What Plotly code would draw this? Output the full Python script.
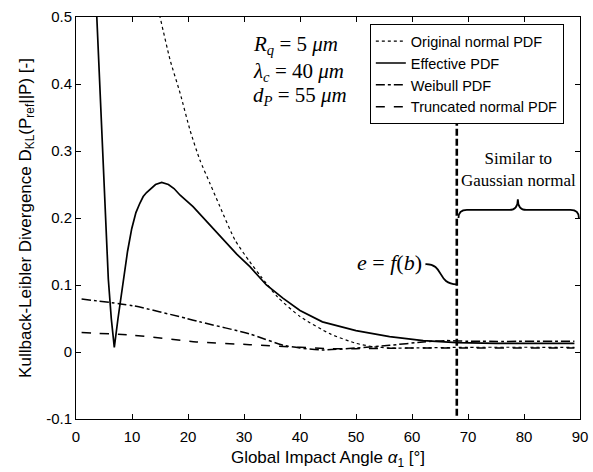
import plotly.graph_objects as go

# ---- data ----
eff_x = [3.4, 3.7, 4.6, 5.36, 5.77, 6.3, 6.84, 7.5, 8.45, 9.2, 9.95, 10.7, 11.4, 12.0, 12.6,
         13.2, 14.2, 15.3, 16.5, 17.5, 18.6, 20.9, 23.5, 26.3, 28.7, 31.1, 34, 37, 40, 44, 50,
         56, 62, 68, 75, 89]
eff_y = [0.56, 0.50, 0.327, 0.167, 0.109, 0.05, 0.007, 0.05, 0.109, 0.15, 0.184, 0.208, 0.222,
         0.232, 0.238, 0.243, 0.25, 0.253, 0.25, 0.244, 0.234, 0.217, 0.193, 0.167, 0.146,
         0.127, 0.1, 0.08, 0.062, 0.045, 0.032, 0.023, 0.017, 0.014, 0.013, 0.013]

orig_x = [14.4, 15, 16.8, 18.6, 20.4, 22.1, 23.9, 25.7, 28.4, 31, 33, 36, 40, 45.4, 50, 53,
          56, 60, 70, 89]
orig_y = [0.52, 0.50, 0.436, 0.386, 0.33, 0.287, 0.252, 0.217, 0.167, 0.135, 0.113, 0.082,
          0.053, 0.027, 0.013, 0.008, 0.006, 0.006, 0.007, 0.007]

weib_x = [1, 10.2, 19.8, 22.1, 31, 37, 40, 44, 50, 56, 62, 66, 70, 89]
weib_y = [0.079, 0.069, 0.050, 0.045, 0.027, 0.010, 0.006, 0.003, 0.006, 0.010, 0.015, 0.017,
          0.016, 0.016]

trunc_x = [1, 10.2, 21.5, 31, 40, 45, 50, 60, 70, 89]
trunc_y = [0.029, 0.025, 0.015, 0.011, 0.007, 0.005, 0.005, 0.006, 0.006, 0.006]

cut_angle = 68
cut_y = [-0.095, 0.357]

x_ticks = [0, 10, 20, 30, 40, 50, 60, 70, 80, 90]
y_ticks = [-0.1, 0, 0.1, 0.2, 0.3, 0.4, 0.5]
y_tick_text = ["-0.1", "0", "0.1", "0.2", "0.3", "0.4", "0.5"]

fig = go.Figure()
fig.add_trace(go.Scatter(x=orig_x, y=orig_y, mode="lines", name="Original normal PDF",
                         line=dict(color="black", width=1.2, dash="dot", shape="spline",
                                   smoothing=0.6)))
fig.add_trace(go.Scatter(x=eff_x, y=eff_y, mode="lines", name="Effective PDF",
                         line=dict(color="black", width=1.7)))
fig.add_trace(go.Scatter(x=weib_x, y=weib_y, mode="lines", name="Weibull PDF",
                         line=dict(color="black", width=1.5, dash="dashdot", shape="spline",
                                   smoothing=0.6)))
fig.add_trace(go.Scatter(x=trunc_x, y=trunc_y, mode="lines", name="Truncated normal PDF",
                         line=dict(color="black", width=1.5, dash="dash", shape="spline",
                                   smoothing=0.6)))
fig.add_trace(go.Scatter(x=[cut_angle, cut_angle], y=cut_y, mode="lines", showlegend=False,
                         line=dict(color="black", width=2.6, dash="7px,3px")))

# brace over "similar" region
fig.add_shape(type="path", xref="x", yref="y",
              path="M 68.3,0.200 Q 68.3,0.212 69.8,0.212 L 77.4,0.212 Q 78.9,0.212 78.9,0.228 "
                   "Q 78.9,0.212 80.4,0.212 L 88.3,0.212 Q 89.8,0.212 89.8,0.200",
              line=dict(color="black", width=1.8))
# connector for e = f(b)
fig.add_shape(type="path", xref="x", yref="y",
              path="M 62.4,0.131 C 65.8,0.132 64.4,0.101 68,0.101",
              line=dict(color="black", width=1.8))

serif = "Liberation Serif, DejaVu Serif, serif"
for txt, yy in [("<i>R<sub>q</sub></i> = 5 <i>μm</i>", 0.458),
                ("<i>λ<sub>c</sub></i> = 40 <i>μm</i>", 0.418),
                ("<i>d<sub>P</sub></i> = 55 <i>μm</i>", 0.382)]:
    fig.add_annotation(x=31.2, y=yy, xref="x", yref="y", xanchor="left", showarrow=False,
                       text=txt, font=dict(family=serif, size=21, color="black"))
fig.add_annotation(x=62.1, y=0.134, xref="x", yref="y", xanchor="right", showarrow=False,
                   text="<i>e</i> = <i>f</i>(<i>b</i>)", font=dict(family=serif, size=22, color="black"))
fig.add_annotation(x=79.0, y=0.272, xref="x", yref="y", xanchor="center", showarrow=False,
                   text="Similar to<br>Gaussian normal", align="center",
                   font=dict(family=serif, size=17, color="black"))

sans = "Liberation Sans, Arial, sans-serif"
axis_common = dict(showline=True, linecolor="black", linewidth=1, mirror="ticks",
                   ticks="inside", ticklen=5, tickcolor="black", showgrid=False, zeroline=False,
                   automargin=False,
                   tickfont=dict(family=sans, size=15, color="black"))

fig.update_layout(
    width=593, height=472,
    margin=dict(l=76, r=13, t=17, b=53),
    paper_bgcolor="white", plot_bgcolor="white",
    showlegend=True,
    legend=dict(x=0.583, y=0.982, xanchor="left", yanchor="top",
                bgcolor="white", bordercolor="black", borderwidth=1,
                font=dict(family=sans, size=14.5, color="black"),
                tracegroupgap=0, itemwidth=30),
    xaxis=dict(range=[0, 90], tickvals=x_ticks, ticklabelstandoff=4,
               title=dict(text="Global Impact Angle <i>α</i><sub>1</sub> [°]", standoff=7,
                          font=dict(family=sans, size=17, color="black")),
               **axis_common),
    yaxis=dict(range=[-0.1, 0.5], tickvals=y_ticks, ticktext=y_tick_text,
               title=dict(text="Kullback-Leibler Divergence D<sub>KL</sub>(P<sub>ref</sub>||P) [-]",
                          standoff=10, font=dict(family=sans, size=17, color="black")),
               **axis_common),
)

fig.write_html(
    "out.html",
    config={"displayModeBar": False},
    post_script=("document.documentElement.style.margin='0';document.body.style.margin='0';"
                 "document.body.style.overflow='hidden';document.body.style.lineHeight='0';"
                 "document.body.style.fontSize='0';"),
)
